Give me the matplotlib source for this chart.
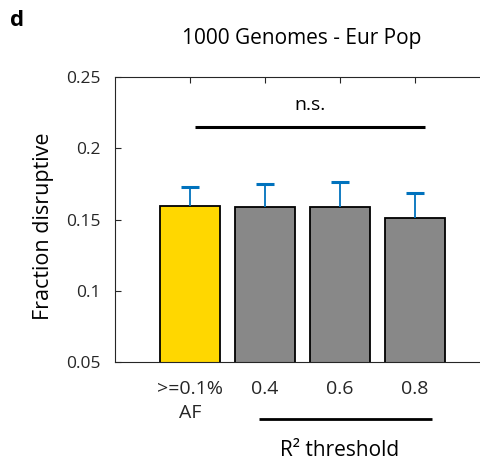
import numpy as np
import matplotlib.pyplot as plt

plt.rcParams['font.family'] = ['Open Sans', 'DejaVu Sans']

labels = ['>=0.1%\nAF', '0.4', '0.6', '0.8']
frac = [0.1595, 0.1586, 0.1590, 0.1508]
err = [0.0131, 0.0160, 0.0170, 0.0178]
colors = ['#FFD700', '#888888', '#888888', '#888888']

fig = plt.figure(figsize=(4.8, 4.65), dpi=100)
ax = fig.add_axes([115/480, 1 - 362/465, 375/480, 285/465])

x = np.arange(1, len(frac) + 1)
ax.bar(x, frac, width=0.8, color=colors, edgecolor='black', linewidth=1.3, zorder=2)
eb = ax.errorbar(x, frac, yerr=[np.zeros(len(err)), err], fmt='none', ecolor='#0072BD',
                 elinewidth=1.3, capsize=6.5, capthick=2.2, zorder=3)
# only the upper caps
eb[1][0].set_visible(False)

ax.set_xlim(0, 5)
ax.set_ylim(0.05, 0.25)
ax.set_yticks([0.05, 0.1, 0.15, 0.2, 0.25])
ax.set_yticklabels(['0.05', '0.1', '0.15', '0.2', '0.25'])
ax.set_xticks(x)
ax.set_xticklabels(labels, fontsize=14, linespacing=1.4)
ax.tick_params(axis='both', direction='in', length=4, width=0.8, colors='#262626',
               labelcolor='#262626', top=True, right=False)
ax.tick_params(axis='y', labelsize=12.5, pad=10)
ax.tick_params(axis='x', pad=13)
for s in ax.spines.values():
    s.set_color('#262626')
    s.set_linewidth(0.8)
ax.spines['right'].set_visible(False)

ax.set_ylabel('Fraction disruptive', fontsize=15.5, color='black')
ax.yaxis.set_label_coords(-(115 - 54) / 375, (362 - 226) / 285)

# significance bar
ax.plot([1.07, 4.13], [0.215, 0.215], color='black', lw=2.2, solid_capstyle='butt')
ax.text(2.6, 0.2305, 'n.s.', ha='center', va='center', fontsize=14)

# R2 threshold grouping line
tr = ax.get_xaxis_transform()
ax.plot([1.92, 4.23], [-0.2, -0.2], color='black', lw=2, transform=tr, clip_on=False,
        solid_capstyle='butt')
ax.text(3.0, -0.312, 'R² threshold', transform=tr, ha='center', va='center', fontsize=15)

fig.text(302/480, 1 - 38/465, '1000 Genomes - Eur Pop', ha='center', va='center', fontsize=15)
fig.text(10/480, 1 - 20/465, 'd', ha='left', va='center', fontsize=16, fontweight='bold')

fig.savefig('out.png', dpi=100)
